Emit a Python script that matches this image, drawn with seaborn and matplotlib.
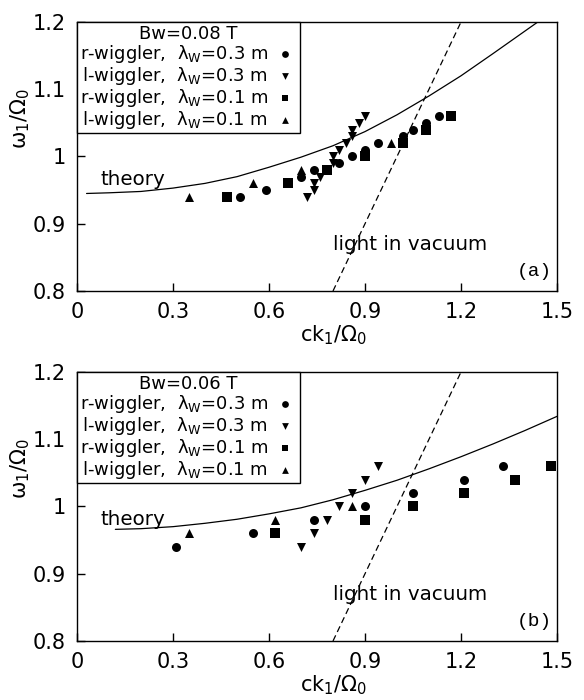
import matplotlib
matplotlib.use("Agg")
import matplotlib.pyplot as plt
import seaborn as sns
import pandas as pd

# ---------------- data ----------------
x_ticks = [0, 0.3, 0.6, 0.9, 1.2, 1.5]
x_ticklabels = ["0", "0.3", "0.6", "0.9", "1.2", "1.5"]
y_ticks = [0.8, 0.9, 1.0, 1.1, 1.2]
y_ticklabels = ["0.8", "0.9", "1", "1.1", "1.2"]

series_labels = [
    "r-wiggler,  λ$_{\\mathrm{W}}$=0.3 m",
    "l-wiggler,  λ$_{\\mathrm{W}}$=0.3 m",
    "r-wiggler,  λ$_{\\mathrm{W}}$=0.1 m",
    "l-wiggler,  λ$_{\\mathrm{W}}$=0.1 m",
]
series_markers = ["o", "v", "s", "^"]

# panel (a)  Bw = 0.08 T
a_r03_x = [0.51, 0.59, 0.70, 0.74, 0.82, 0.86, 0.90, 0.94, 1.02, 1.05, 1.09, 1.13]
a_r03_y = [0.94, 0.95, 0.97, 0.98, 0.99, 1.00, 1.01, 1.02, 1.03, 1.04, 1.05, 1.06]
a_l03_x = [0.72, 0.74, 0.74, 0.76, 0.80, 0.80, 0.82, 0.84, 0.86, 0.86, 0.88, 0.90]
a_l03_y = [0.94, 0.95, 0.96, 0.97, 0.99, 1.00, 1.01, 1.02, 1.03, 1.04, 1.05, 1.06]
a_r01_x = [0.47, 0.66, 0.78, 0.90, 1.02, 1.09, 1.17]
a_r01_y = [0.94, 0.96, 0.98, 1.00, 1.02, 1.04, 1.06]
a_l01_x = [0.35, 0.55, 0.70, 0.98]
a_l01_y = [0.94, 0.96, 0.98, 1.02]
a_theory_x = [0.03, 0.1, 0.2, 0.3, 0.4, 0.5, 0.6, 0.7, 0.8, 0.9, 1.0, 1.1, 1.2, 1.3, 1.44]
a_theory_y = [0.945, 0.946, 0.948, 0.953, 0.960, 0.970, 0.984, 0.999, 1.016, 1.037,
              1.062, 1.090, 1.120, 1.153, 1.200]

# panel (b)  Bw = 0.06 T
b_r03_x = [0.31, 0.55, 0.74, 0.90, 1.05, 1.21, 1.33]
b_r03_y = [0.94, 0.96, 0.98, 1.00, 1.02, 1.04, 1.06]
b_l03_x = [0.70, 0.74, 0.78, 0.82, 0.86, 0.90, 0.94]
b_l03_y = [0.94, 0.96, 0.98, 1.00, 1.02, 1.04, 1.06]
b_r01_x = [0.62, 0.90, 1.05, 1.21, 1.37, 1.48]
b_r01_y = [0.96, 0.98, 1.00, 1.02, 1.04, 1.06]
b_l01_x = [0.35, 0.62, 0.86]
b_l01_y = [0.96, 0.98, 1.00]
b_theory_x = [0.12, 0.2, 0.3, 0.4, 0.5, 0.6, 0.7, 0.8, 0.9, 1.0, 1.1, 1.2, 1.3, 1.4, 1.5]
b_theory_y = [0.966, 0.967, 0.970, 0.975, 0.981, 0.989, 0.998, 1.010, 1.024, 1.039,
              1.056, 1.074, 1.093, 1.113, 1.134]

light_x = [0.8, 1.2]
light_y = [0.8, 1.2]

# ---------------- style ----------------
sns.set_style("ticks")
plt.rcParams["font.family"] = ["DejaVu Sans"]
plt.rcParams["mathtext.fontset"] = "dejavusans"
plt.rcParams["axes.linewidth"] = 1.0
for key in ["text.color", "axes.labelcolor", "xtick.color", "ytick.color",
            "xtick.labelcolor", "ytick.labelcolor", "axes.edgecolor"]:
    plt.rcParams[key] = "black"

fig = plt.figure(figsize=(5.84, 7.0), dpi=100)
ax1 = fig.add_axes([0.1318, 0.5843, 0.822, 0.3843])
ax2 = fig.add_axes([0.1318, 0.0843, 0.822, 0.3843])

panels = [
    (ax1, [(a_r03_x, a_r03_y), (a_l03_x, a_l03_y), (a_r01_x, a_r01_y), (a_l01_x, a_l01_y)],
     a_theory_x, a_theory_y, "Bw=0.08 T", "(a)", 0.957),
    (ax2, [(b_r03_x, b_r03_y), (b_l03_x, b_l03_y), (b_r01_x, b_r01_y), (b_l01_x, b_l01_y)],
     b_theory_x, b_theory_y, "Bw=0.06 T", "(b)", 0.972),
]

for ax, series, tx, ty, title, tag, theory_y in panels:
    sns.lineplot(x=tx, y=ty, ax=ax, color="black", linewidth=0.9, sort=False)
    sns.lineplot(x=light_x, y=light_y, ax=ax, color="black", linewidth=0.9,
                 linestyle=(0, (5, 3)), sort=False)
    for (sx, sy), lab, mk in zip(series, series_labels, series_markers):
        df = pd.DataFrame({"x": sx, "y": sy})
        sns.scatterplot(data=df, x="x", y="y", ax=ax, marker=mk, color="black",
                        s=42, linewidth=0, label=lab)
    ax.set_xlim(0, 1.5)
    ax.set_ylim(0.8, 1.2)
    ax.set_xticks(x_ticks)
    ax.set_xticklabels(x_ticklabels)
    ax.set_yticks(y_ticks)
    ax.set_yticklabels(y_ticklabels)
    ax.tick_params(axis="both", direction="in", length=6, width=1.0,
                   labelsize=15, pad=8, top=False, right=False, colors="black")
    for sp in ax.spines.values():
        sp.set_visible(True)
        sp.set_color("black")
        sp.set_linewidth(1.0)
    ax.set_xlabel("ck$_1$/Ω$_0$", fontsize=15)
    ax.set_ylabel("ω$_1$/Ω$_0$", fontsize=15)
    ax.xaxis.set_label_coords(0.535, -0.12)
    ax.yaxis.set_label_coords(-0.094, 0.64)
    ax.text(0.072, theory_y, "theory", fontsize=14.3, ha="left", va="baseline")
    ax.text(0.80, 0.861, "light in vacuum", fontsize=14.3, ha="left", va="baseline")
    ax.text(1.485, 0.823, tag, fontsize=14, ha="right", va="baseline",
            family=["Liberation Mono", "DejaVu Sans Mono"])
    leg = ax.legend(title=title, loc="upper left", bbox_to_anchor=(0, 1),
                    borderaxespad=0, markerfirst=False, frameon=True, fancybox=False,
                    edgecolor="black", framealpha=1, fontsize=13, title_fontsize=13,
                    labelspacing=0.0, borderpad=0.15, handletextpad=0.3,
                    handlelength=1.3, markerscale=0.75)
    leg.get_frame().set_linewidth(1.0)
    leg.set_zorder(5)

fig.savefig("out.png", dpi=100)
